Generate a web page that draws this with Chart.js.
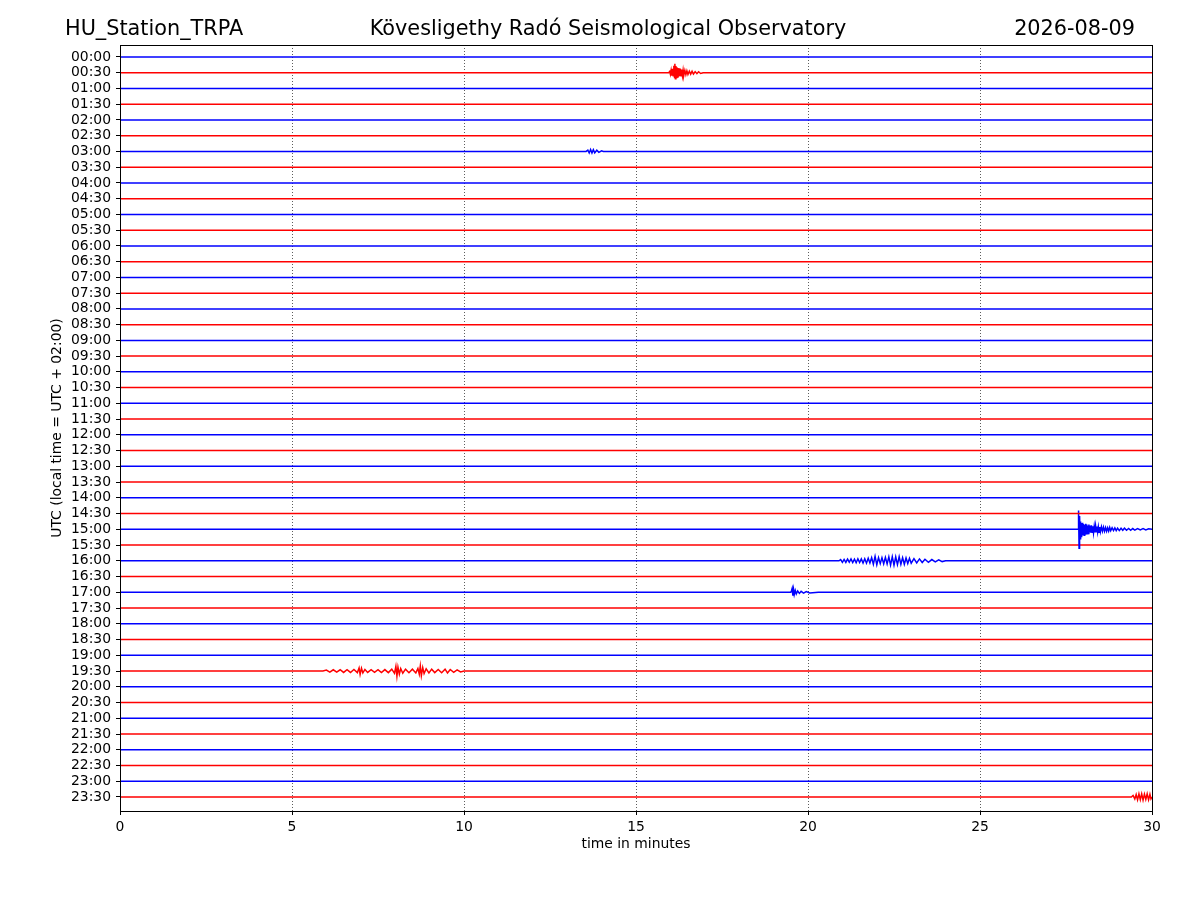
<!DOCTYPE html>
<html>
<head>
<meta charset="utf-8">
<script src="https://cdn.jsdelivr.net/npm/chart.js@4"></script>
<style>
  body { margin: 0; background: #fff; }
  canvas { display: block; }
</style>
</head>
<body>
<canvas id="heli" width="1200" height="900"></canvas>
<script>
// helicorder rows, one per half hour
const timeLabels = [
  "00:00", "00:30", "01:00", "01:30", "02:00", "02:30", "03:00", "03:30",
  "04:00", "04:30", "05:00", "05:30", "06:00", "06:30", "07:00", "07:30",
  "08:00", "08:30", "09:00", "09:30", "10:00", "10:30", "11:00", "11:30",
  "12:00", "12:30", "13:00", "13:30", "14:00", "14:30", "15:00", "15:30",
  "16:00", "16:30", "17:00", "17:30", "18:00", "18:30", "19:00", "19:30",
  "20:00", "20:30", "21:00", "21:30", "22:00", "22:30", "23:00", "23:30",
];
const minuteTicks = [0, 5, 10, 15, 20, 25, 30];

// visible events: [minute, deflection in trace heights, up = positive]
const event0030 = [
  [15.95, 0], [15.98, 0.08], [16.0, -0.1], [16.02, 0.15], [16.04, -0.18],
  [16.06, 0.25], [16.08, -0.2], [16.1, 0.45], [16.12, -0.3], [16.13, 0.57],
  [16.145, -0.38], [16.16, 0.42], [16.175, -0.3], [16.19, 0.35], [16.205, -0.28],
  [16.22, 0.3], [16.235, -0.25], [16.25, 0.28], [16.27, -0.22], [16.29, 0.24],
  [16.31, -0.2], [16.33, 0.2], [16.35, -0.18], [16.37, 0.17], [16.39, -0.16],
  [16.42, 0.15], [16.45, -0.13], [16.48, 0.12], [16.51, -0.11], [16.55, 0.1],
  [16.59, -0.09], [16.63, 0.09], [16.67, -0.08], [16.72, 0.07], [16.77, -0.06],
  [16.82, 0.06], [16.88, -0.05], [16.95, 0],
];
const event0300 = [
  [13.55, 0], [13.6, 0.08], [13.64, -0.1], [13.68, 0.12], [13.72, -0.1],
  [13.76, 0.11], [13.8, -0.09], [13.86, 0.08], [13.92, -0.06], [14.0, 0.04], [14.05, 0],
];
const event1500 = [
  [27.85, 0], [27.86, 0.1], [27.87, 1.2], [27.88, -1.2], [27.895, 0.85],
  [27.91, -0.6], [27.925, 0.5], [27.94, -0.45], [27.955, 0.4], [27.97, -0.35],
  [27.985, 0.42], [28.0, -0.3], [28.015, 0.33], [28.03, -0.38], [28.045, 0.28],
  [28.06, -0.3], [28.075, 0.35], [28.09, -0.25], [28.105, 0.3], [28.12, -0.28],
  [28.135, 0.22], [28.15, -0.26], [28.165, 0.3], [28.18, -0.2], [28.2, 0.24],
  [28.22, -0.22], [28.24, 0.26], [28.26, -0.18], [28.28, 0.2], [28.3, -0.22],
  [28.32, 0.18], [28.34, -0.2], [28.36, 0.22], [28.38, -0.16], [28.4, 0.18],
  [28.42, -0.17], [28.44, 0.15], [28.46, -0.18], [28.48, 0.14], [28.5, -0.15],
  [28.53, 0.16], [28.56, -0.12], [28.59, 0.14], [28.62, -0.13], [28.65, 0.11],
  [28.68, -0.12], [28.71, 0.1], [28.74, -0.11], [28.77, 0.12], [28.8, -0.09],
  [28.84, 0.1], [28.88, -0.08], [28.92, 0.09], [28.96, -0.08], [29.0, 0.07],
  [29.05, -0.08], [29.1, 0.07], [29.15, -0.06], [29.2, 0.07], [29.26, -0.06],
  [29.32, 0.05], [29.38, -0.06], [29.44, 0.05], [29.5, -0.05], [29.58, 0.05],
  [29.66, -0.04], [29.74, 0.04], [29.82, -0.04], [29.9, 0.03], [30, 0],
];
const event1600 = [
  [20.9, 0], [20.95, 0.08], [21.0, -0.1], [21.05, 0.09], [21.1, -0.1],
  [21.15, 0.11], [21.2, -0.09], [21.25, 0.12], [21.3, -0.11], [21.35, 0.1],
  [21.4, -0.12], [21.45, 0.13], [21.5, -0.11], [21.55, 0.12], [21.6, -0.14],
  [21.65, 0.13], [21.7, -0.15], [21.75, 0.16], [21.8, -0.14], [21.85, 0.2],
  [21.9, -0.22], [21.95, 0.28], [22.0, -0.25], [22.05, 0.2], [22.1, -0.18],
  [22.15, 0.2], [22.2, -0.19], [22.25, 0.22], [22.3, -0.2], [22.35, 0.25],
  [22.4, -0.27], [22.45, 0.26], [22.5, -0.28], [22.55, 0.25], [22.6, -0.24],
  [22.65, 0.26], [22.7, -0.22], [22.75, 0.2], [22.8, -0.22], [22.85, 0.18],
  [22.9, -0.17], [22.95, 0.16], [23.0, -0.15], [23.08, 0.14], [23.16, -0.13],
  [23.24, 0.12], [23.32, -0.11], [23.4, 0.1], [23.5, -0.09], [23.6, 0.08],
  [23.7, -0.07], [23.8, 0.06], [23.9, -0.05], [24.0, 0],
];
const event1700 = [
  [19.5, 0], [19.52, 0.1], [19.54, 0.25], [19.56, -0.22], [19.58, 0.18],
  [19.6, -0.15], [19.63, 0.12], [19.66, -0.1], [19.7, 0.08], [19.75, -0.07],
  [19.8, 0.06], [19.87, -0.05], [19.95, 0.05], [20.05, -0.04], [20.3, 0],
];
const event1930 = [
  [5.9, 0], [6.0, 0.06], [6.1, -0.07], [6.2, 0.08], [6.3, -0.07], [6.4, 0.08],
  [6.5, -0.09], [6.6, 0.08], [6.7, -0.09], [6.8, 0.1], [6.9, -0.1], [6.95, 0.2],
  [6.98, -0.22], [7.02, 0.18], [7.06, -0.12], [7.12, 0.1], [7.2, -0.09],
  [7.3, 0.08], [7.4, -0.08], [7.5, 0.09], [7.6, -0.1], [7.7, 0.09], [7.8, -0.1],
  [7.9, 0.12], [7.98, -0.15], [8.02, 0.3], [8.05, -0.32], [8.08, 0.25],
  [8.12, -0.2], [8.16, 0.16], [8.22, -0.14], [8.3, 0.12], [8.4, -0.11],
  [8.5, 0.12], [8.6, -0.12], [8.66, 0.16], [8.7, -0.2], [8.73, 0.32],
  [8.76, -0.3], [8.8, 0.22], [8.84, -0.16], [8.9, 0.14], [8.98, -0.12],
  [9.06, 0.12], [9.15, -0.1], [9.25, 0.1], [9.35, -0.11], [9.45, 0.12],
  [9.52, -0.12], [9.6, 0.1], [9.7, -0.08], [9.8, 0.07], [9.9, -0.06], [10.0, 0],
];
const event2330 = [
  [29.4, 0], [29.45, 0.1], [29.5, -0.12], [29.54, 0.16], [29.58, -0.18],
  [29.62, 0.2], [29.66, -0.17], [29.7, 0.2], [29.74, -0.2], [29.78, 0.18],
  [29.82, -0.16], [29.86, 0.2], [29.9, -0.18], [29.94, 0.17], [29.97, -0.12], [30, 0],
];
const eventRows = { 1: event0030, 6: event0300, 30: event1500, 32: event1600, 34: event1700, 39: event1930, 47: event2330 };

const datasets = timeLabels.map((lab, i) => {
  const ev = eventRows[i] || [];
  const pts = [{ x: 0, y: i }];
  ev.forEach(([m, d]) => pts.push({ x: m, y: i - d }));
  if (!ev.length || ev[ev.length - 1][0] < 30) pts.push({ x: 30, y: i });
  return {
    label: lab,
    data: pts,
    showLine: true,
    borderColor: i % 2 === 0 ? "#0000ff" : "#ff0000",
    borderWidth: 1.5,
    pointRadius: 0,
    tension: 0,
  };
});

const frameAndTitles = {
  id: "frameAndTitles",
  afterDraw(chart) {
    const { ctx, chartArea: a } = chart;
    ctx.save();
    ctx.strokeStyle = "#000";
    ctx.lineWidth = 1;
    ctx.strokeRect(a.left + 0.5, a.top + 0.5, a.right - a.left, a.bottom - a.top);
    ctx.fillStyle = "#000";
    ctx.font = '20.8px "DejaVu Sans"';
    ctx.textBaseline = "middle";
    ctx.textAlign = "left";
    ctx.fillText("HU_Station_TRPA", 65, 30);
    ctx.textAlign = "center";
    ctx.fillText("Kövesligethy Radó Seismological Observatory", 608, 30);
    ctx.textAlign = "right";
    ctx.fillText("2026-08-09", 1135, 30);
    ctx.restore();
  },
};

const font = { family: "DejaVu Sans", size: 13.9 };

new Chart(document.getElementById("heli"), {
  type: "scatter",
  data: { datasets },
  options: {
    responsive: false,
    animation: false,
    devicePixelRatio: 1,
    layout: { padding: { left: 0, top: 45, right: 48, bottom: 39 } },
    plugins: { legend: { display: false }, tooltip: { enabled: false } },
    scales: {
      x: {
        type: "linear",
        min: 0,
        max: 30,
        afterFit: (s) => { s.height = 50; },
        afterBuildTicks: (s) => { s.ticks = minuteTicks.map((v) => ({ value: v })); },
        ticks: { color: "#000", font, padding: 4, maxRotation: 0, autoSkip: false },
        grid: {
          color: (c) => (c.tick && (c.tick.value === 0 || c.tick.value === 30) ? "rgba(0,0,0,0)" : "#333"),
          lineWidth: 0.8,
          tickColor: "#000",
          tickLength: 4,
          tickWidth: 1,
        },
        border: { color: "#000", width: 1, dash: [1, 2] },
        title: { display: true, text: "time in minutes", color: "#000", font, padding: { top: 0, bottom: 8 } },
      },
      y: {
        type: "linear",
        reverse: true,
        min: -0.76,
        max: 47.89,
        afterFit: (s) => { s.width = 120; },
        afterBuildTicks: (s) => { s.ticks = timeLabels.map((_, i) => ({ value: i })); },
        ticks: { color: "#000", font, padding: 5, autoSkip: false, callback: (v) => timeLabels[v] },
        grid: { drawOnChartArea: false, tickColor: "#000", tickLength: 4, tickWidth: 1 },
        border: { color: "#000", width: 1 },
        title: { display: true, text: "UTC (local time = UTC + 02:00)", color: "#000", font, padding: { top: 49, bottom: 0 } },
      },
    },
  },
  plugins: [frameAndTitles],
});
</script>
</body>
</html>
